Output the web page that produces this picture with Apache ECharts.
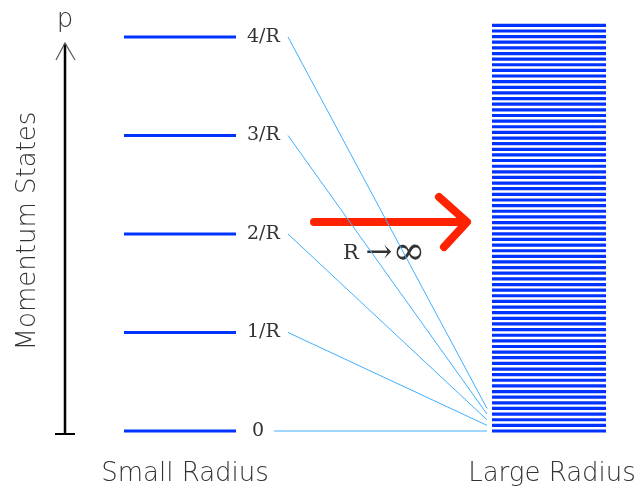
<!DOCTYPE html>
<html>
<head>
<meta charset="utf-8">
<script src="https://cdn.jsdelivr.net/npm/echarts@6/dist/echarts.min.js"></script>
<style>
html,body{margin:0;padding:0;background:#fff;}
#chart{width:642px;height:490px;}
</style>
</head>
<body>
<div id="chart"></div>
<script>
// ---- data ----
const smallLevels = [0, 1, 2, 3, 4];               // momentum p in units of 1/R (small radius)
const smallLabels = ['0', '1/R', '2/R', '3/R', '4/R'];
const largeLevels = [                                // momentum states for a large radius
  0, 0.057, 0.114, 0.172, 0.229, 0.286, 0.343, 0.400, 0.458, 0.515,
  0.572, 0.629, 0.686, 0.744, 0.801, 0.858, 0.915, 0.972, 1.030, 1.087,
  1.144, 1.201, 1.258, 1.316, 1.373, 1.430, 1.487, 1.544, 1.602, 1.659,
  1.716, 1.773, 1.830, 1.888, 1.945, 2.002, 2.059, 2.116, 2.174, 2.231,
  2.288, 2.345, 2.402, 2.460, 2.517, 2.574, 2.631, 2.688, 2.746, 2.803,
  2.860, 2.917, 2.974, 3.032, 3.089, 3.146, 3.203, 3.260, 3.318, 3.375,
  3.432, 3.489, 3.546, 3.604, 3.661, 3.718, 3.775, 3.832, 3.890, 3.947,
  4.004, 4.061, 4.118
];
const axisName = 'Momentum States';
const axisSymbol = 'p';
const groupNames = ['Small Radius', 'Large Radius'];
const limitText = ['R ', '→', '∞'];

// ---- layout / style ----
const W = 642, H = 490;
const Y_MIN = -0.599, Y_MAX = 4.3756;
const SMALL_X = [124, 236];
const LABEL_X = 247, LABEL_X0 = 252;
const LINK_X0 = [274, 288], LINK_X1 = 487;
const LARGE_X = [492, 606];
const BLUE = '#0033ff', LIGHT = '#40b0ff', RED = '#ff2200', TXT = '#333';
const SANS = '"DejaVu Sans", sans-serif';
const SERIF = '"DejaVu Serif", serif';

const chart = echarts.init(document.getElementById('chart'), null, {renderer: 'canvas'});

chart.setOption({
  animation: false,
  backgroundColor: '#fff',
  grid: {left: 0, right: 0, top: 0, bottom: 0},
  xAxis: {type: 'value', min: 0, max: W, show: false},
  yAxis: {type: 'value', min: Y_MIN, max: Y_MAX, show: false},
  series: [
    {
      type: 'custom',
      name: 'small',
      data: smallLevels.map((v, i) => [i, v]),
      renderItem: function (params, api) {
        const i = api.value(0), v = api.value(1);
        const a = api.coord([SMALL_X[0], v]);
        const b = api.coord([SMALL_X[1], v]);
        return {
          type: 'group',
          children: [
            {type: 'line', shape: {x1: a[0], y1: a[1], x2: b[0], y2: b[1]},
             style: {stroke: BLUE, lineWidth: 3}},
            {type: 'text', x: (v === 0 ? LABEL_X0 : LABEL_X), y: a[1],
             style: {text: smallLabels[i], font: '19px ' + SERIF, fill: TXT,
                     textAlign: 'left', textVerticalAlign: 'middle'}}
          ]
        };
      }
    },
    {
      type: 'custom',
      name: 'links',
      data: smallLevels.map((v, i) => [v, largeLevels[i]]),
      renderItem: function (params, api) {
        const v = api.value(0), w = api.value(1);
        const a = api.coord([v === 0 ? LINK_X0[0] : LINK_X0[1], v]);
        const b = api.coord([LINK_X1, w]);
        return {type: 'line', shape: {x1: a[0], y1: a[1], x2: b[0], y2: b[1]},
                style: {stroke: LIGHT, lineWidth: 1}};
      }
    },
    {
      type: 'custom',
      name: 'large',
      data: largeLevels.map(v => [v]),
      renderItem: function (params, api) {
        const v = api.value(0);
        const a = api.coord([LARGE_X[0], v]);
        const b = api.coord([LARGE_X[1], v]);
        return {type: 'line', shape: {x1: a[0], y1: a[1], x2: b[0], y2: b[1]},
                style: {stroke: BLUE, lineWidth: 3.2}};
      }
    }
  ],
  graphic: [
    // vertical momentum axis
    {type: 'line', shape: {x1: 65, y1: 434, x2: 65, y2: 44}, style: {stroke: '#000', lineWidth: 2.5}},
    {type: 'line', shape: {x1: 55, y1: 434, x2: 75, y2: 434}, style: {stroke: '#000', lineWidth: 2}},
    {type: 'polyline', shape: {points: [[56, 60], [65, 43], [75, 60]]}, style: {stroke: '#555', lineWidth: 1.2, fill: null}},
    {type: 'text', x: 65, y: 20, style: {text: axisSymbol, font: '200 26px ' + SANS, fill: TXT, textAlign: 'center', textVerticalAlign: 'middle'}},
    {type: 'text', x: 28, y: 231, rotation: Math.PI / 2,
     style: {text: axisName, font: '200 26px ' + SANS, fill: TXT, textAlign: 'center', textVerticalAlign: 'middle'}},
    // bottom captions
    {type: 'text', x: 185, y: 474, style: {text: groupNames[0], font: '200 26px ' + SANS, fill: TXT, textAlign: 'center', textVerticalAlign: 'middle'}},
    {type: 'text', x: 552, y: 474, style: {text: groupNames[1], font: '200 26px ' + SANS, fill: TXT, textAlign: 'center', textVerticalAlign: 'middle'}},
    // red arrow
    {type: 'line', shape: {x1: 314, y1: 222, x2: 464, y2: 222}, style: {stroke: RED, lineWidth: 8, lineCap: 'round'}},
    {type: 'polyline', shape: {points: [[439, 197], [467, 222], [444, 247]]}, style: {stroke: RED, lineWidth: 8, lineCap: 'round', lineJoin: 'round', fill: null}},
    // limit text
    {type: 'text', x: 343, y: 254,
     style: {
       text: '{r|' + limitText[0] + '}{a|' + limitText[1] + '}{i|' + limitText[2] + '}',
       textAlign: 'left', textVerticalAlign: 'middle',
       rich: {
         r: {font: '21px ' + SERIF, fill: TXT},
         a: {font: '32px ' + SERIF, fill: TXT},
         i: {font: '40px ' + SERIF, fill: TXT}
       }
     }}
  ]
});
</script>
</body>
</html>
